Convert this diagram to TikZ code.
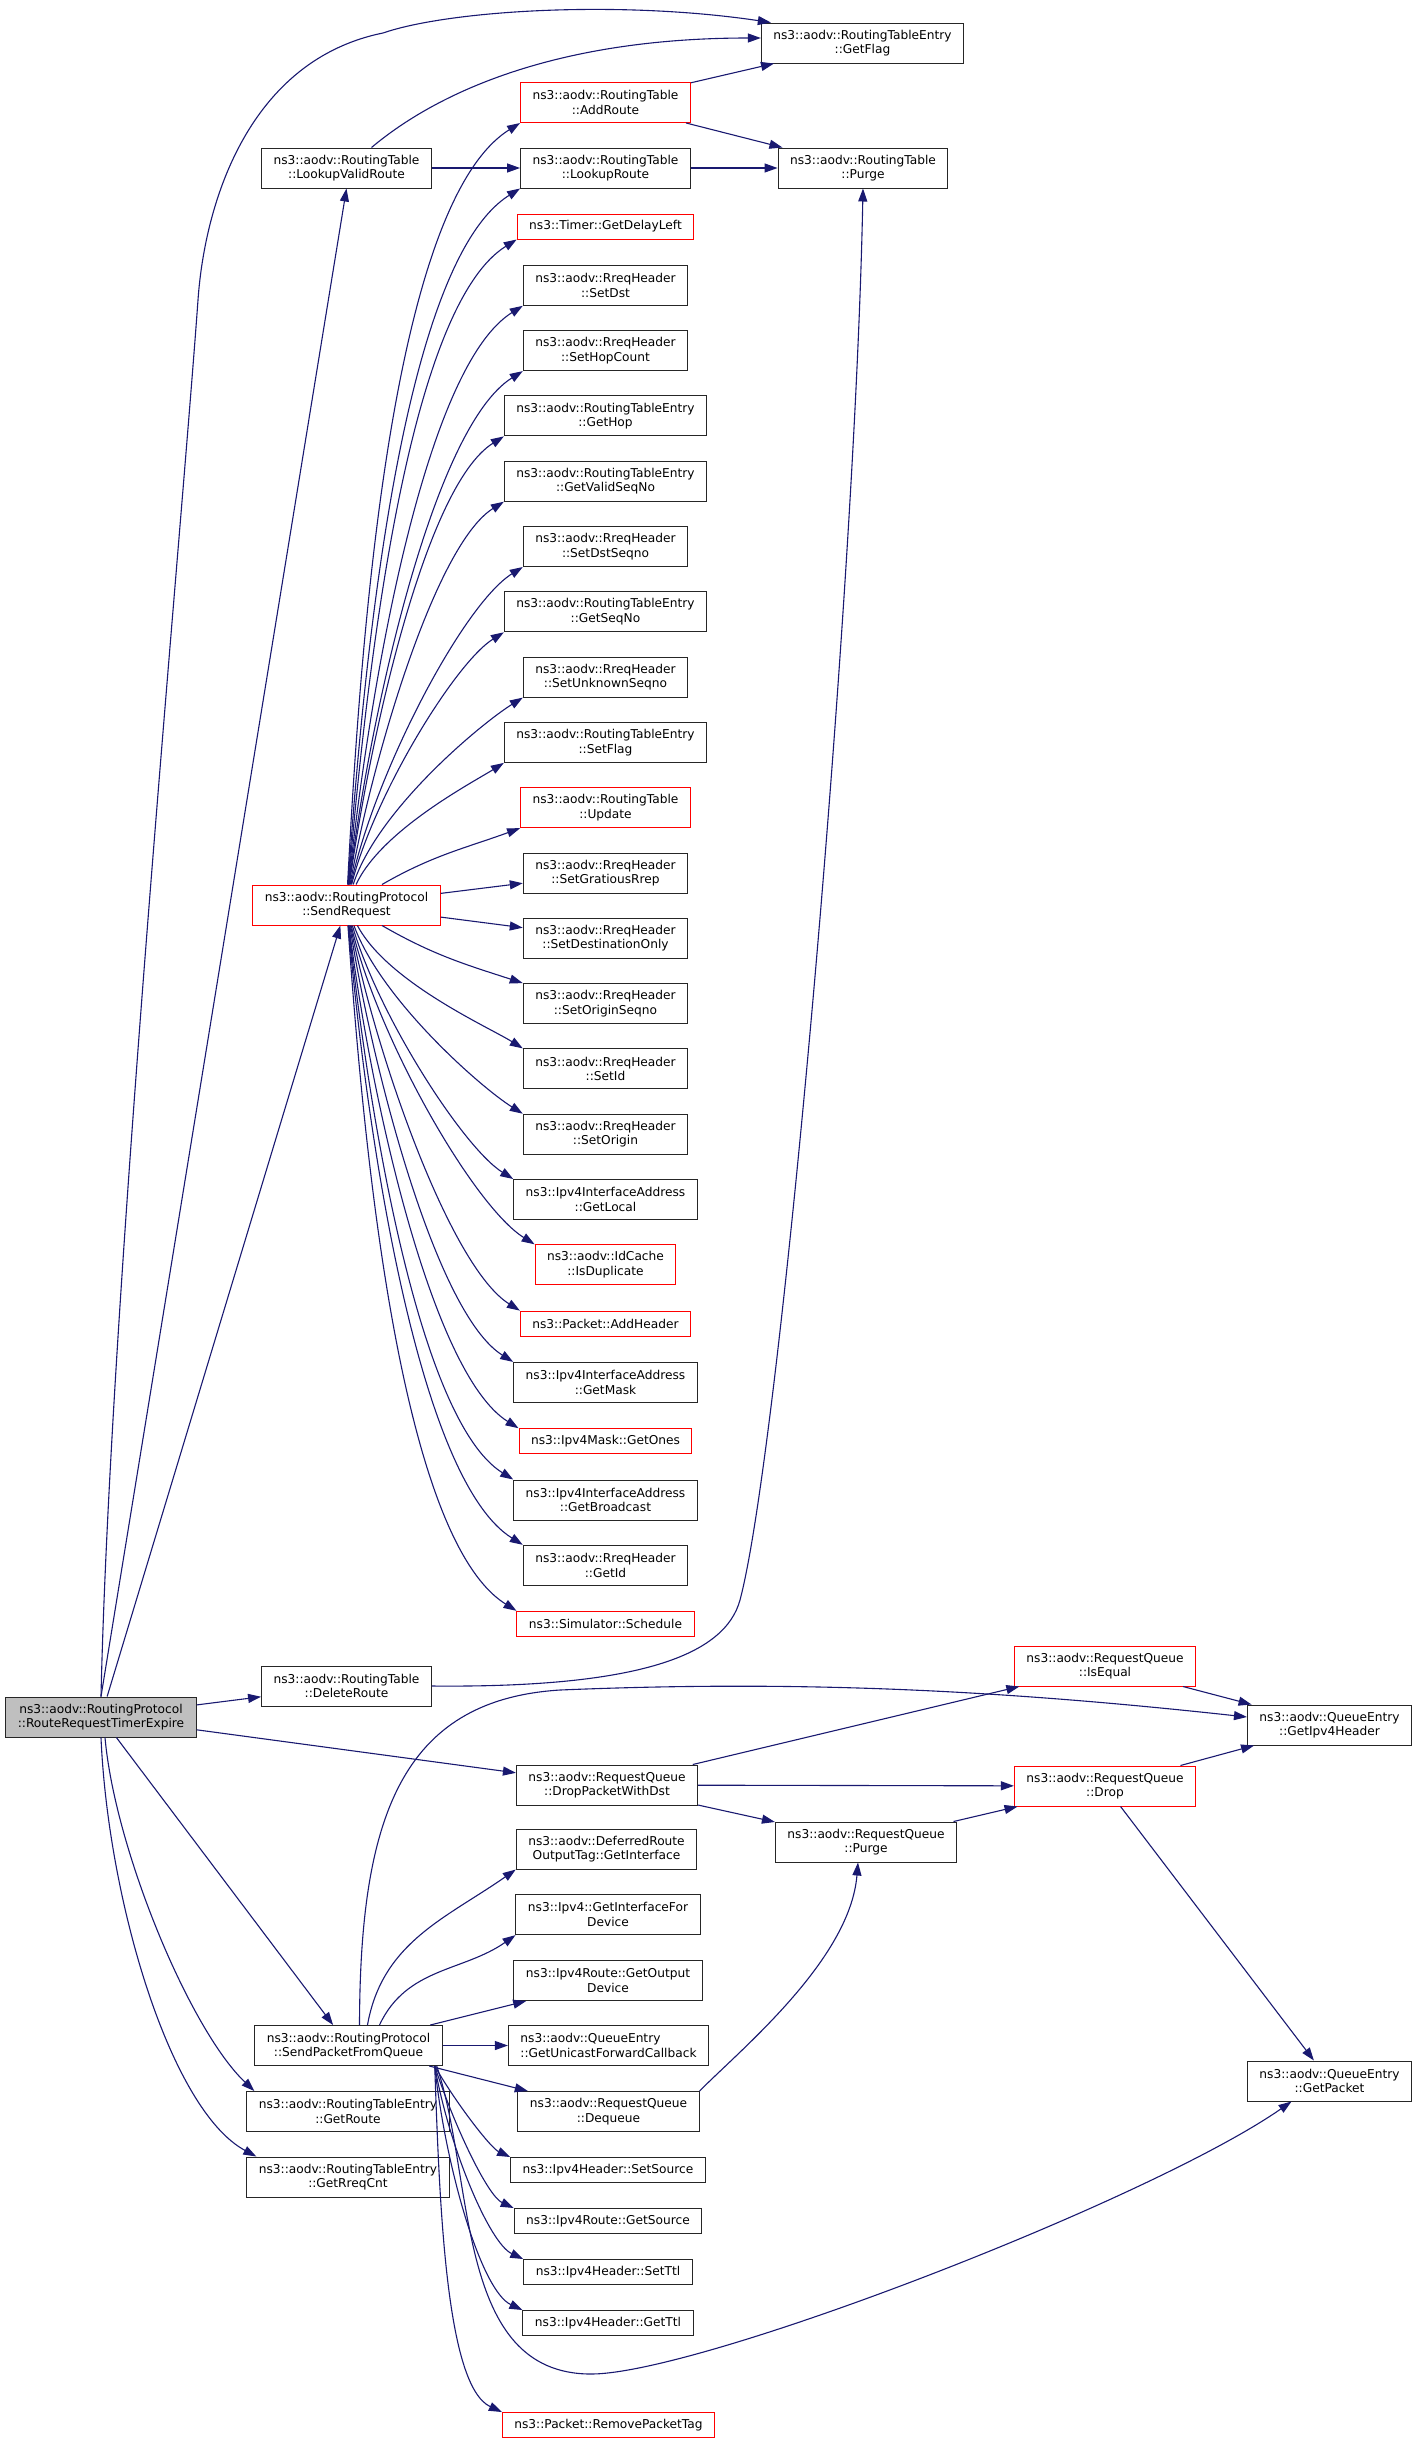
\documentclass[tikz,border=0pt]{standalone}
\usepackage{fontspec}
\setmainfont{DejaVu Sans}
\usetikzlibrary{arrows.meta}
\definecolor{callblue}{RGB}{25,25,112}
\definecolor{hitred}{RGB}{255,0,0}
\definecolor{rootgrey}{RGB}{191,191,191}
\tikzset{
  fn/.style={draw=black!85, line width=1pt, fill=white, inner xsep=12pt, inner ysep=0pt,
    minimum height=40pt, align=center, font=\fontsize{12.2pt}{14.5pt}\selectfont},
  fnred/.style={fn, draw=hitred},
  fnroot/.style={fn, fill=rootgrey},
  oneline/.style={minimum height=25pt},
  call/.style={draw=callblue, line width=1.1pt, -{Triangle[length=13pt,width=9pt]}}
}

\begin{document}
\begin{tikzpicture}[x=1pt,y=-1pt]
\useasboundingbox (0,0) rectangle (1419,2441);

\node[fnroot] (main) at (101,1717) {ns3::aodv::RoutingProtocol\\::RouteRequestTimerExpire};

\node[fn] (lvr) at (346.5,168) {ns3::aodv::RoutingTable\\::LookupValidRoute};
\node[fnred] (sreq) at (346.5,905) {ns3::aodv::RoutingProtocol\\::SendRequest};
\node[fn] (delr) at (346.5,1686) {ns3::aodv::RoutingTable\\::DeleteRoute};
\node[fn] (spfq) at (348.5,2045.5) {ns3::aodv::RoutingProtocol\\::SendPacketFromQueue};
\node[fn] (getroute) at (348,2111.5) {ns3::aodv::RoutingTableEntry\\::GetRoute};
\node[fn] (getrreq) at (348,2177) {ns3::aodv::RoutingTableEntry\\::GetRreqCnt};

\node[fnred] (addroute) at (605.5,102.5) {ns3::aodv::RoutingTable\\::AddRoute};
\node[fn] (lookuproute) at (605.5,168) {ns3::aodv::RoutingTable\\::LookupRoute};
\node[fnred, oneline] (delayleft) at (605.5,226.5) {ns3::Timer::GetDelayLeft};
\node[fn] (setdst) at (605.5,285.3) {ns3::aodv::RreqHeader\\::SetDst};
\node[fn] (sethop) at (605.5,350.6) {ns3::aodv::RreqHeader\\::SetHopCount};
\node[fn] (gethop) at (605.5,415.9) {ns3::aodv::RoutingTableEntry\\::GetHop};
\node[fn] (getvalid) at (605.5,481.2) {ns3::aodv::RoutingTableEntry\\::GetValidSeqNo};
\node[fn] (setdstseq) at (605.5,546.5) {ns3::aodv::RreqHeader\\::SetDstSeqno};
\node[fn] (getseq) at (605.5,611.8) {ns3::aodv::RoutingTableEntry\\::GetSeqNo};
\node[fn] (setunk) at (605.5,677.1) {ns3::aodv::RreqHeader\\::SetUnknownSeqno};
\node[fn] (setflag) at (605.5,742.4) {ns3::aodv::RoutingTableEntry\\::SetFlag};
\node[fnred] (update) at (605.5,807.7) {ns3::aodv::RoutingTable\\::Update};
\node[fn] (setgrat) at (605.5,873) {ns3::aodv::RreqHeader\\::SetGratiousRrep};
\node[fn] (setdestonly) at (605.5,938.3) {ns3::aodv::RreqHeader\\::SetDestinationOnly};
\node[fn] (setoriginseq) at (605.5,1003.6) {ns3::aodv::RreqHeader\\::SetOriginSeqno};
\node[fn] (setid) at (605.5,1068.9) {ns3::aodv::RreqHeader\\::SetId};
\node[fn] (setorigin) at (605.5,1134.2) {ns3::aodv::RreqHeader\\::SetOrigin};
\node[fn] (getlocal) at (605.5,1199.5) {ns3::Ipv4InterfaceAddress\\::GetLocal};
\node[fnred] (isdup) at (605.5,1264.8) {ns3::aodv::IdCache\\::IsDuplicate};
\node[fnred, oneline] (addheader) at (605.5,1323.6) {ns3::Packet::AddHeader};
\node[fn] (getmask) at (605.5,1382.4) {ns3::Ipv4InterfaceAddress\\::GetMask};
\node[fnred, oneline] (getones) at (605.5,1441.2) {ns3::Ipv4Mask::GetOnes};
\node[fn] (getbcast) at (605.5,1500) {ns3::Ipv4InterfaceAddress\\::GetBroadcast};
\node[fn] (getid) at (605.5,1565.3) {ns3::aodv::RreqHeader\\::GetId};
\node[fnred, oneline] (schedule) at (605.5,1623.8) {ns3::Simulator::Schedule};

\node[fn] (dropdst) at (607,1785) {ns3::aodv::RequestQueue\\::DropPacketWithDst};
\node[fn] (defer) at (606.5,1849) {ns3::aodv::DeferredRoute\\OutputTag::GetInterface};
\node[fn] (getiface) at (608,1914.6) {ns3::Ipv4::GetInterfaceFor\\Device};
\node[fn] (getoutdev) at (608,1980.5) {ns3::Ipv4Route::GetOutput\\Device};
\node[fn, align=left] (unicast) at (608.5,2045.5) {ns3::aodv::QueueEntry\\::GetUnicastForwardCallback};
\node[fn] (dequeue) at (608.5,2111.5) {ns3::aodv::RequestQueue\\::Dequeue};
\node[fn, oneline] (setsource) at (608,2170) {ns3::Ipv4Header::SetSource};
\node[fn, oneline] (getsource) at (608,2221) {ns3::Ipv4Route::GetSource};
\node[fn, oneline] (setttl) at (608,2272) {ns3::Ipv4Header::SetTtl};
\node[fn, oneline] (getttl) at (608,2323) {ns3::Ipv4Header::GetTtl};
\node[fnred, oneline] (removetag) at (608.5,2425) {ns3::Packet::RemovePacketTag};

\node[fn] (getflag) at (862.5,43) {ns3::aodv::RoutingTableEntry\\::GetFlag};
\node[fn] (purge) at (863,168) {ns3::aodv::RoutingTable\\::Purge};
\node[fn] (rqpurge) at (866,1842) {ns3::aodv::RequestQueue\\::Purge};
\node[fnred] (isequal) at (1105,1666) {ns3::aodv::RequestQueue\\::IsEqual};
\node[fnred] (drop) at (1105,1786) {ns3::aodv::RequestQueue\\::Drop};
\node[fn] (getipv4) at (1329.5,1725) {ns3::aodv::QueueEntry\\::GetIpv4Header};
\node[fn] (getpacket) at (1329.5,2081) {ns3::aodv::QueueEntry\\::GetPacket};

\draw[call] (main.north) .. controls (110,1300) and (180,550) .. (198,300)
  .. controls (205,200) and (250,60) .. (383,33)
  .. controls (450,10) and (620,0) .. ([xshift=10pt]getflag.north west);
\draw[call] (main.north) -- (lvr.south);
\draw[call] (main) -- (sreq);
\draw[call] (main) -- (delr);
\draw[call] (main) -- (dropdst);
\draw[call] (main) -- (spfq);
\draw[call] ([xshift=4pt]main.south) .. controls (115,1850) and (190,2030) .. ([xshift=8pt]getroute.north west);
\draw[call] (main.south) .. controls (108,1900) and (170,2110) .. ([xshift=10pt]getrreq.north west);

\draw[call] ([xshift=25pt]lvr.north) .. controls (440,90) and (560,38) .. ([yshift=5pt]getflag.west);
\draw[call] (lvr) -- (lookuproute);
\draw[call] (addroute) -- (getflag);
\draw[call] (addroute) -- (purge);
\draw[call] (lookuproute) -- (purge);
\draw[call] (delr.east) .. controls (640,1688) and (725,1655) .. (740,1600)
  .. controls (780,1450) and (855,600) .. (purge.south);

\foreach \t/\o in {addroute/87, lookuproute/86, delayleft/85, setdst/84, sethop/83, gethop/82,
    getvalid/80, setdstseq/78, getseq/76, setunk/72, setflag/65}
  \draw[call] (sreq) to[out=\o, in=212, out looseness=.8, in looseness=.5] (\t.south west);
\draw[call] (sreq) to[out=30, in=200] (update.south west);
\draw[call] (sreq) -- (setgrat);
\draw[call] (sreq) -- (setdestonly);
\draw[call] (sreq) to[out=-30, in=162] (setoriginseq.north west);
\foreach \t/\o in {setid/-62, setorigin/-70, getlocal/-74, isdup/-77, addheader/-79, getmask/-81,
    getones/-83, getbcast/-84, getid/-85, schedule/-86}
  \draw[call] (sreq) to[out=\o, in=148, out looseness=.8, in looseness=.5] (\t.north west);

\draw[call] ([xshift=11pt]spfq.north) .. controls (360,1820) and (400,1700) .. (560,1690)
  .. controls (800,1680) and (1000,1690) .. ([yshift=8pt]getipv4.west);
\draw[call] ([xshift=19pt]spfq.north) to[out=80, in=215] (defer.south west);
\draw[call] ([xshift=31pt]spfq.north) to[out=65, in=215] (getiface.south west);
\draw[call] (spfq) -- (getoutdev);
\draw[call] (spfq) -- (unicast);
\draw[call] (spfq) -- (dequeue);
\foreach \t/\o in {setsource/-60, getsource/-72, setttl/-80, getttl/-84, removetag/-88}
  \draw[call] ([xshift=-8pt]spfq.south east) to[out=\o, in=155, out looseness=1, in looseness=.45] (\t.north west);
\draw[call] ([xshift=-6pt]spfq.south east) .. controls (475,2180) and (455,2374) .. (591,2374)
  .. controls (700,2374) and (1150,2200) .. ([xshift=-38pt]getpacket.south);

\draw[call] (dropdst) -- (isequal);
\draw[call] (dropdst) -- (drop);
\draw[call] (dropdst) -- (rqpurge);
\draw[call] (isequal) -- (getipv4);
\draw[call] (drop) -- (getipv4);
\draw[call] (drop) -- (getpacket);
\draw[call] (rqpurge) -- (drop);
\draw[call] (dequeue.north east) .. controls (740,2050) and (850,1960) .. ([xshift=-8pt]rqpurge.south);
\end{tikzpicture}
\end{document}
